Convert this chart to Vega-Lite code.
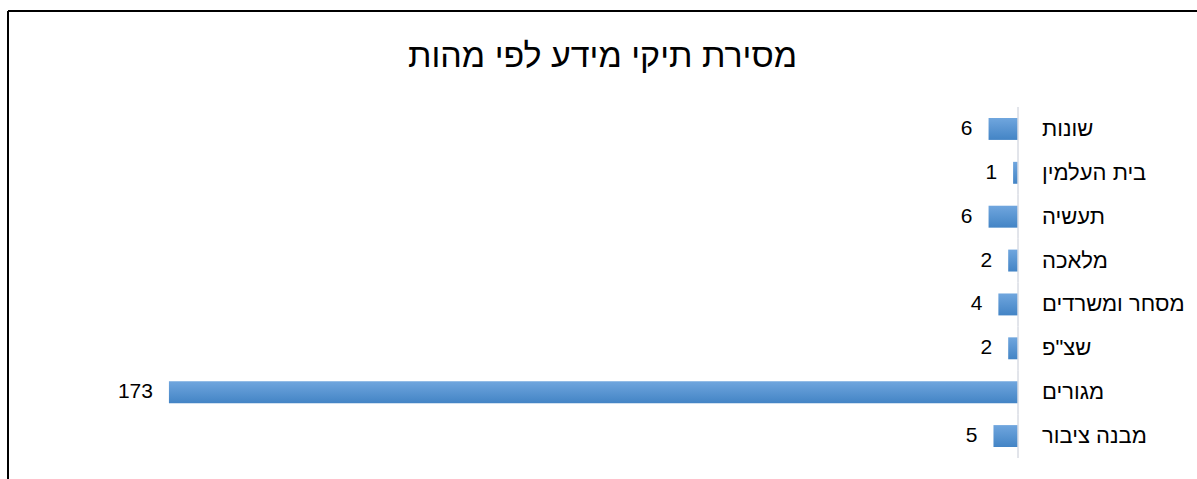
{
  "$schema": "https://vega.github.io/schema/vega-lite/v6.json",
  "width": 1189,
  "height": 468,
  "autosize": "none",
  "padding": {"left": 8, "top": 11, "right": 0, "bottom": 0},
  "background": "white",
  "config": {"view": {"stroke": null}, "font": "Liberation Sans"},
  "title": {
    "text": "מסירת תיקי מידע לפי מהות",
    "fontSize": 34,
    "font": "Liberation Sans",
    "fontWeight": "normal",
    "color": "black",
    "anchor": "middle",
    "frame": "group",
    "baseline": "alphabetic",
    "offset": -91
  },
  "data": {
    "values": [
      {"category": "שונות", "count": 6},
      {"category": "בית העלמין", "count": 1},
      {"category": "תעשיה", "count": 6},
      {"category": "\u00a0מלאכה", "count": 2},
      {"category": "מסחר ומשרדים", "count": 4},
      {"category": "\u00a0שצ\"פ", "count": 2},
      {"category": "מגורים", "count": 173},
      {"category": "\u00a0מבנה ציבור", "count": 5}
    ]
  },
  "layer": [
    {
      "layer": [
        {
          "mark": {
            "type": "bar",
            "fill": {
              "gradient": "linear",
              "x1": 0, "y1": 0, "x2": 0, "y2": 1,
              "stops": [
                {"offset": 0, "color": "#70a6de"},
                {"offset": 1, "color": "#4384c5"}
              ]
            }
          },
          "encoding": {
            "y": {"field": "category", "type": "nominal", "sort": null, "axis": null,
                  "scale": {"type": "band", "range": [96, 447], "paddingInner": 0.5, "paddingOuter": 0.25, "round": false}},
            "x": {"field": "count", "type": "quantitative", "axis": null,
                  "scale": {"domain": [-36.47, 205.79], "reverse": true, "nice": false, "zero": false}}
          }
        },
        {
          "mark": {"type": "rect", "fill": null, "stroke": "#d9dce4", "strokeWidth": 1.5, "height": {"band": 2}},
          "encoding": {
            "y": {"field": "category", "type": "nominal", "sort": null},
            "x": {"datum": 0},
            "x2": {"datum": 0}
          }
        },
        {
          "mark": {"type": "text", "align": "right", "baseline": "middle", "dx": -16, "fontSize": 21, "color": "black", "font": "Liberation Sans"},
          "encoding": {
            "y": {"field": "category", "type": "nominal", "sort": null},
            "x": {"field": "count", "type": "quantitative"},
            "text": {"field": "count", "type": "quantitative"}
          }
        },
        {
          "mark": {"type": "text", "align": "left", "baseline": "middle", "dx": 24, "fontSize": 22, "color": "black", "font": "Liberation Sans"},
          "encoding": {
            "y": {"field": "category", "type": "nominal", "sort": null},
            "x": {"datum": 0},
            "text": {"field": "category", "type": "nominal"}
          }
        }
      ]
    },
    {
      "data": {"values": [{"edge": "left"}]},
      "mark": {"type": "rule", "stroke": "black", "strokeWidth": 2},
      "encoding": {"x": {"datum": 205.79}}
    },
    {
      "data": {"values": [{"edge": "top"}]},
      "mark": {"type": "rule", "stroke": "black", "strokeWidth": 2},
      "encoding": {"y": {"datum": 1, "type": "quantitative", "scale": {"domain": [0, 1]}, "axis": null}}
    }
  ],
  "resolve": {"scale": {"y": "independent"}}
}
